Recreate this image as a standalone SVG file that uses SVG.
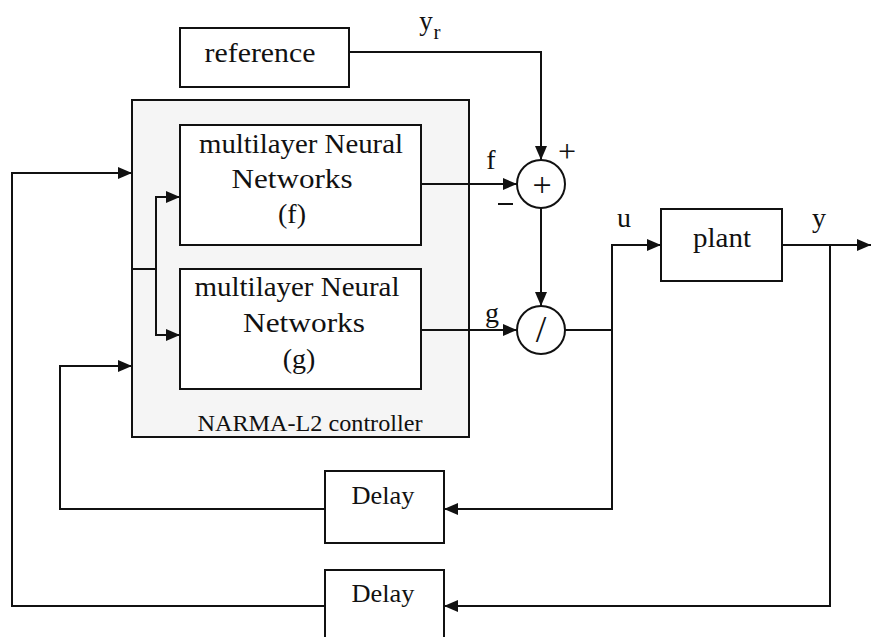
<svg xmlns="http://www.w3.org/2000/svg" width="871" height="637" viewBox="0 0 871 637">
<style>
.b{fill:#fff;stroke:#111;stroke-width:2}
.c{fill:none;stroke:#111;stroke-width:2}
.t{font-family:"Liberation Serif","Times New Roman",serif;fill:#111;text-anchor:middle}
</style>
<defs>
<marker id="a" viewBox="0 0 14 12" refX="14" refY="6" markerWidth="14" markerHeight="12" markerUnits="userSpaceOnUse" orient="auto">
<path d="M0,0 L14,6 L0,12 z" fill="#111"/>
</marker>
</defs>
<rect width="871" height="637" fill="#fff"/>
<g id="controller">
<rect x="132" y="100" width="337" height="337" fill="#f5f5f5" stroke="#111" stroke-width="2"/>
<text class="t" x="310" y="431" font-size="24" textLength="225" lengthAdjust="spacingAndGlyphs">NARMA-L2 controller</text>
</g>
<g id="reference">
<rect class="b" x="180" y="28" width="169" height="59"/>
<text class="t" x="260" y="62" font-size="28" textLength="111" lengthAdjust="spacingAndGlyphs">reference</text>
</g>
<g id="nnf">
<rect class="b" x="180" y="125" width="241" height="120"/>
<text class="t" x="301" y="153" font-size="28" textLength="204" lengthAdjust="spacingAndGlyphs">multilayer Neural</text>
<text class="t" x="292" y="188" font-size="28" textLength="121" lengthAdjust="spacingAndGlyphs">Networks</text>
<text class="t" x="292" y="223" font-size="28">(f)</text>
</g>
<g id="nng">
<rect class="b" x="180" y="269" width="241" height="120"/>
<text class="t" x="297" y="296" font-size="28" textLength="205" lengthAdjust="spacingAndGlyphs">multilayer Neural</text>
<text class="t" x="304" y="332" font-size="28" textLength="122" lengthAdjust="spacingAndGlyphs">Networks</text>
<text class="t" x="299" y="368" font-size="28">(g)</text>
</g>
<g id="sum">
<circle class="b" cx="541" cy="184" r="24"/>
<text class="t" x="542" y="196" font-size="34">+</text>
</g>
<g id="div">
<circle class="b" cx="541" cy="330" r="24"/>
<text class="t" x="541" y="342" font-size="38">/</text>
</g>
<g id="plant">
<rect class="b" x="661" y="209" width="121" height="72"/>
<text class="t" x="722" y="247" font-size="28" textLength="58" lengthAdjust="spacingAndGlyphs">plant</text>
</g>
<g id="delay1">
<rect class="b" x="325" y="471" width="119" height="72"/>
<text class="t" x="383" y="504" font-size="25" textLength="63" lengthAdjust="spacingAndGlyphs">Delay</text>
</g>
<g id="delay2">
<rect class="b" x="325" y="570" width="119" height="100"/>
<text class="t" x="383" y="602" font-size="25" textLength="63" lengthAdjust="spacingAndGlyphs">Delay</text>
</g>
<g id="connectors">
<path class="c" d="M349,52 H541 V160" marker-end="url(#a)"/>
<path class="c" d="M421,184 H517" marker-end="url(#a)"/>
<path class="c" d="M541,208 V306" marker-end="url(#a)"/>
<path class="c" d="M421,330 H517" marker-end="url(#a)"/>
<path class="c" d="M565,330 H612 V245 H661" marker-end="url(#a)"/>
<path class="c" d="M612,330 V509 H444" marker-end="url(#a)"/>
<path class="c" d="M782,245 H871" marker-end="url(#a)"/>
<path class="c" d="M830,245 V606 H444" marker-end="url(#a)"/>
<path class="c" d="M325,509 H60 V366 H132" marker-end="url(#a)"/>
<path class="c" d="M325,606 H12 V173 H132" marker-end="url(#a)"/>
<path class="c" d="M132,269 H156"/>
<path class="c" d="M156,269 V197 H180" marker-end="url(#a)"/>
<path class="c" d="M156,269 V335 H180" marker-end="url(#a)"/>
</g>
<g id="labels">
<text class="t" x="426" y="30" font-size="27">y</text>
<text class="t" x="437" y="39" font-size="21">r</text>
<text class="t" x="491" y="169" font-size="28">f</text>
<text class="t" x="492" y="322" font-size="28">g</text>
<text class="t" x="624" y="227" font-size="28">u</text>
<text class="t" x="819" y="227" font-size="28">y</text>
<text class="t" x="567" y="162" font-size="32">+</text>
<line x1="498" y1="204" x2="513" y2="204" stroke="#111" stroke-width="2"/>
</g>
</svg>
